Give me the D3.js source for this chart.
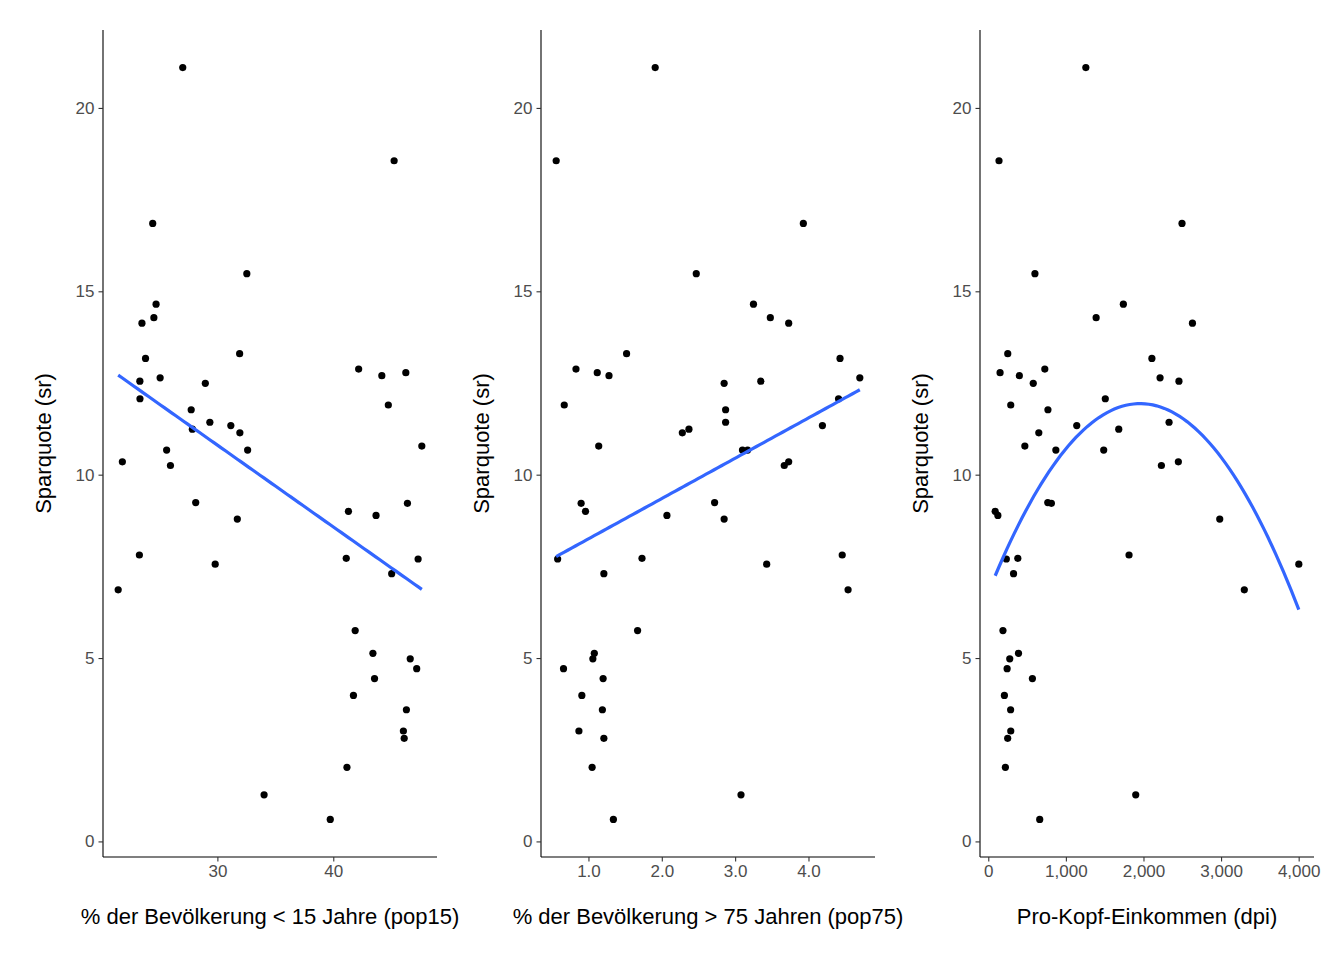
<!DOCTYPE html>
<html><head><meta charset="utf-8">
<script src="https://cdn.jsdelivr.net/npm/d3@7"></script>
<style>body{margin:0;background:#fff}</style>
</head><body><svg width="1344" height="960"></svg>
<script>
// LifeCycleSavings
const sr = [11.43,12.07,13.17,5.75,12.88,8.79,0.60,11.90,4.98,10.78,16.85,3.59,11.24,12.64,12.55,10.67,3.01,7.70,1.27,9.00,11.34,14.28,21.10,3.98,10.35,15.48,10.25,14.65,10.67,7.30,4.44,2.02,12.70,12.78,12.49,11.14,13.30,11.77,6.86,14.13,5.13,2.81,7.81,7.56,9.22,18.56,7.72,9.24,8.89,4.71];
const pop15 = [29.35,23.32,23.80,41.89,42.19,31.72,39.74,44.75,46.64,47.64,24.42,46.31,27.84,25.06,23.31,25.62,46.05,47.32,34.03,41.31,31.16,24.52,27.01,41.74,21.80,32.54,25.95,24.71,32.61,45.04,43.56,41.18,44.19,46.26,28.96,31.94,31.92,27.74,21.44,23.49,43.42,46.12,23.27,29.81,46.40,45.25,41.12,28.13,43.69,47.20];
const pop75 = [2.87,4.41,4.43,1.67,0.83,2.85,1.34,0.67,1.06,1.14,3.93,1.19,2.37,4.70,3.35,3.10,0.87,0.58,3.08,0.96,4.19,3.48,1.91,0.91,3.73,2.47,3.67,3.25,3.17,1.21,1.20,1.05,1.28,1.12,2.85,2.28,1.52,2.87,4.54,3.73,1.08,1.21,4.46,3.43,0.90,0.56,1.73,2.72,2.07,0.66];
const dpi = [2329.68,1507.99,2108.47,189.13,728.47,2982.88,662.86,289.52,276.65,471.24,2496.53,287.77,1681.25,2213.82,2457.12,870.85,289.71,232.44,1900.10,88.94,1139.95,1390.00,1257.28,207.68,2449.39,601.05,2231.03,1740.70,1487.52,325.54,568.56,220.56,400.06,152.01,579.51,651.11,250.96,768.79,3299.49,2630.96,389.66,249.87,1813.93,4001.89,813.39,138.33,380.47,766.54,123.58,242.69];
const yTicks = [0,5,10,15,20];

const panels = [
  {x: pop15, title: '% der Bevölkerung < 15 Jahre (pop15)', ticks: [30,40], fit: 1, left: 103},
  {x: pop75, title: '% der Bevölkerung > 75 Jahren (pop75)', ticks: [1,2,3,4], fit: 1, left: 541},
  {x: dpi, title: 'Pro-Kopf-Einkommen (dpi)', ticks: [0,1000,2000,3000,4000], fit: 2, left: 980}
];
const pw = 334, plotTop = 30, plotBottom = 857;
const svg = d3.select('svg');

function expand(ext){ const r = ext[1]-ext[0]; return [ext[0]-0.05*r, ext[1]+0.05*r]; }

// least squares polynomial fit, degree 1 or 2
function polyfit(xs, ys, deg){
  const n = deg+1, A = [], b = [];
  for (let i=0;i<n;i++){ A.push(new Array(n).fill(0)); b.push(0); }
  xs.forEach((x,k)=>{ for(let i=0;i<n;i++){ b[i]+=ys[k]*x**i; for(let j=0;j<n;j++) A[i][j]+=x**(i+j); } });
  for (let i=0;i<n;i++){ for(let r=i+1;r<n;r++){ const f=A[r][i]/A[i][i]; for(let c=i;c<n;c++) A[r][c]-=f*A[i][c]; b[r]-=f*b[i]; } }
  const co = new Array(n).fill(0);
  for (let i=n-1;i>=0;i--){ let s=b[i]; for(let j=i+1;j<n;j++) s-=A[i][j]*co[j]; co[i]=s/A[i][i]; }
  return x => co.reduce((s,c,i)=>s+c*x**i,0);
}

const y = d3.scaleLinear().domain(expand(d3.extent(sr))).range([plotBottom, plotTop]);

panels.forEach(p => {
  const x = d3.scaleLinear().domain(expand(d3.extent(p.x))).range([p.left, p.left+pw]);
  const g = svg.append('g');

  const ya = g.append('g').attr('transform', `translate(${p.left},0)`)
    .call(d3.axisLeft(y).tickValues(yTicks).tickSize(4.5).tickPadding(4));
  const xa = g.append('g').attr('transform', `translate(0,${plotBottom})`)
    .call(d3.axisBottom(x).tickValues(p.ticks).tickSize(4.5).tickPadding(3));
  [ya, xa].forEach(a => {
    a.select('.domain').attr('stroke', '#000').attr('stroke-width', 1.1);
    a.selectAll('.tick line').attr('stroke', '#333').attr('stroke-width', 1.1);
    a.selectAll('.tick text').attr('fill', '#4d4d4d').style('font', '17px Arial, "Liberation Sans", sans-serif');
  });
  ya.select('.domain').attr('d', `M0,${plotBottom}V${plotTop}`);
  xa.select('.domain').attr('d', `M${p.left},0H${p.left+pw}`);

  g.selectAll('circle').data(p.x).enter().append('circle')
    .attr('cx', d => x(d)).attr('cy', (d,i) => y(sr[i])).attr('r', 3.6).attr('fill', '#000');

  const f = polyfit(p.x, sr, p.fit);
  const ext = d3.extent(p.x);
  const xs = d3.range(80).map(i => ext[0] + (ext[1]-ext[0])*i/79);
  g.append('path').datum(xs)
    .attr('d', d3.line().x(d => x(d)).y(d => y(f(d))))
    .attr('fill', 'none').attr('stroke', '#3366FF').attr('stroke-width', 3.2);

  g.append('text').attr('x', p.left+pw/2).attr('y', 924).attr('text-anchor', 'middle')
    .style('font', '22px Arial, "Liberation Sans", sans-serif').text(p.title);
  g.append('text').attr('text-anchor', 'middle')
    .attr('transform', `translate(${p.left-52},${(plotTop+plotBottom)/2}) rotate(-90)`)
    .style('font', '22px Arial, "Liberation Sans", sans-serif').text('Sparquote (sr)');
});
</script></body></html>
